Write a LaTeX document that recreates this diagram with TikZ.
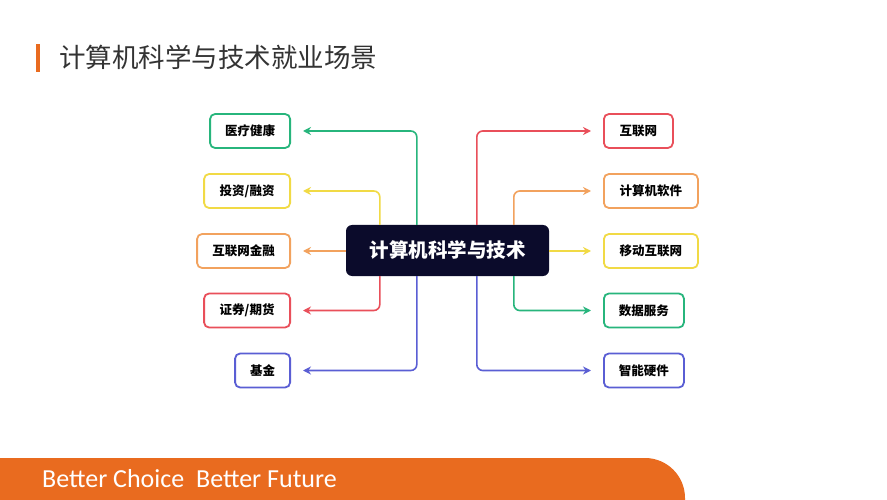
\documentclass[tikz,border=0pt]{standalone}
\usepackage{fontspec}
\setmainfont{Noto Sans CJK SC}
\newfontfamily\footfont{Carlito}
\usetikzlibrary{arrows.meta,calc}
\definecolor{cgreen}{HTML}{27B57C}
\definecolor{cyellow}{HTML}{F1DA45}
\definecolor{corange}{HTML}{F2A25E}
\definecolor{cred}{HTML}{E94F5A}
\definecolor{cblue}{HTML}{5A5ED4}
\definecolor{cnavy}{HTML}{0B0B2B}
\definecolor{brand}{HTML}{E96B1F}
\definecolor{titlegray}{HTML}{333333}
\tikzset{
  leaf/.style={draw=#1, line width=1.8pt, rounded corners=5pt, fill=white,
    minimum height=34pt, inner sep=0pt, font=\fontsize{12.5}{14}\selectfont\bfseries, text=black},
  link/.style={draw=#1, line width=1.6pt, rounded corners=6pt,
    -{Stealth[length=8pt,width=8pt]}, shorten >=12pt},
  hub/.style={fill=cnavy, rounded corners=6pt, minimum width=203pt, minimum height=51pt,
    inner sep=0pt, text=white, font=\fontsize{19.5}{22}\selectfont\bfseries}
}
\begin{document}
\begin{tikzpicture}[x=1pt,y=-1pt]
\useasboundingbox (0,0) rectangle (887,500);
\fill[white] (0,0) rectangle (887,500);
% title
\fill[brand] (36,44) rectangle (40,72);
\node[anchor=west, inner sep=0pt, text=titlegray, font=\fontsize{26.5}{30}\selectfont] (title) at (59,57) {计算机科学与技术就业场景};
% footer
\fill[brand] (0,458) [rounded corners=40pt] -- (685,458) [sharp corners] -- (685,500) -- (0,500) -- cycle;
\node[anchor=west, inner sep=0pt, text=white, font=\footfont\fontsize{26}{30}\selectfont] (foot) at (42,479) {Better Choice\ \ Better Future};
% hub
\node[hub] (c) at (447.5,250.5) {计算机科学与技术};
% left leaves
\node[leaf=cgreen, minimum width=80pt, anchor=east] (l1) at (291,131) {医疗健康};
\node[leaf=cyellow, minimum width=86pt, anchor=east] (l2) at (291,191) {投资/融资};
\node[leaf=corange, minimum width=93pt, anchor=east] (l3) at (291,251) {互联网金融};
\node[leaf=cred, minimum width=86pt, anchor=east] (l4) at (291,310.5) {证券/期货};
\node[leaf=cblue, minimum width=55pt, anchor=east] (l5) at (291,370.5) {基金};
% right leaves
\node[leaf=cred, minimum width=69pt, anchor=west] (r1) at (603,131) {互联网};
\node[leaf=corange, minimum width=94pt, anchor=west] (r2) at (603,191) {计算机软件};
\node[leaf=cyellow, minimum width=94pt, anchor=west] (r3) at (603,251) {移动互联网};
\node[leaf=cgreen, minimum width=80pt, anchor=west] (r4) at (603,310.5) {数据服务};
\node[leaf=cblue, minimum width=80pt, anchor=west] (r5) at (603,370.5) {智能硬件};
% connectors left
\draw[link=cgreen] ($(c.north west)+(71,0)$) |- (l1.east);
\draw[link=cyellow] ($(c.north west)+(34,0)$) |- (l2.east);
\draw[link=corange] (c.west |- l3.east) -- (l3.east);
\draw[link=cred] ($(c.south west)+(34,0)$) |- (l4.east);
\draw[link=cblue] ($(c.south west)+(71,0)$) |- (l5.east);
% connectors right
\draw[link=cred] ($(c.north west)+(131,0)$) |- (r1.west);
\draw[link=corange] ($(c.north west)+(168,0)$) |- (r2.west);
\draw[link=cyellow] (c.east |- r3.west) -- (r3.west);
\draw[link=cgreen] ($(c.south west)+(168,0)$) |- (r4.west);
\draw[link=cblue] ($(c.south west)+(131,0)$) |- (r5.west);
\end{tikzpicture}
\end{document}
